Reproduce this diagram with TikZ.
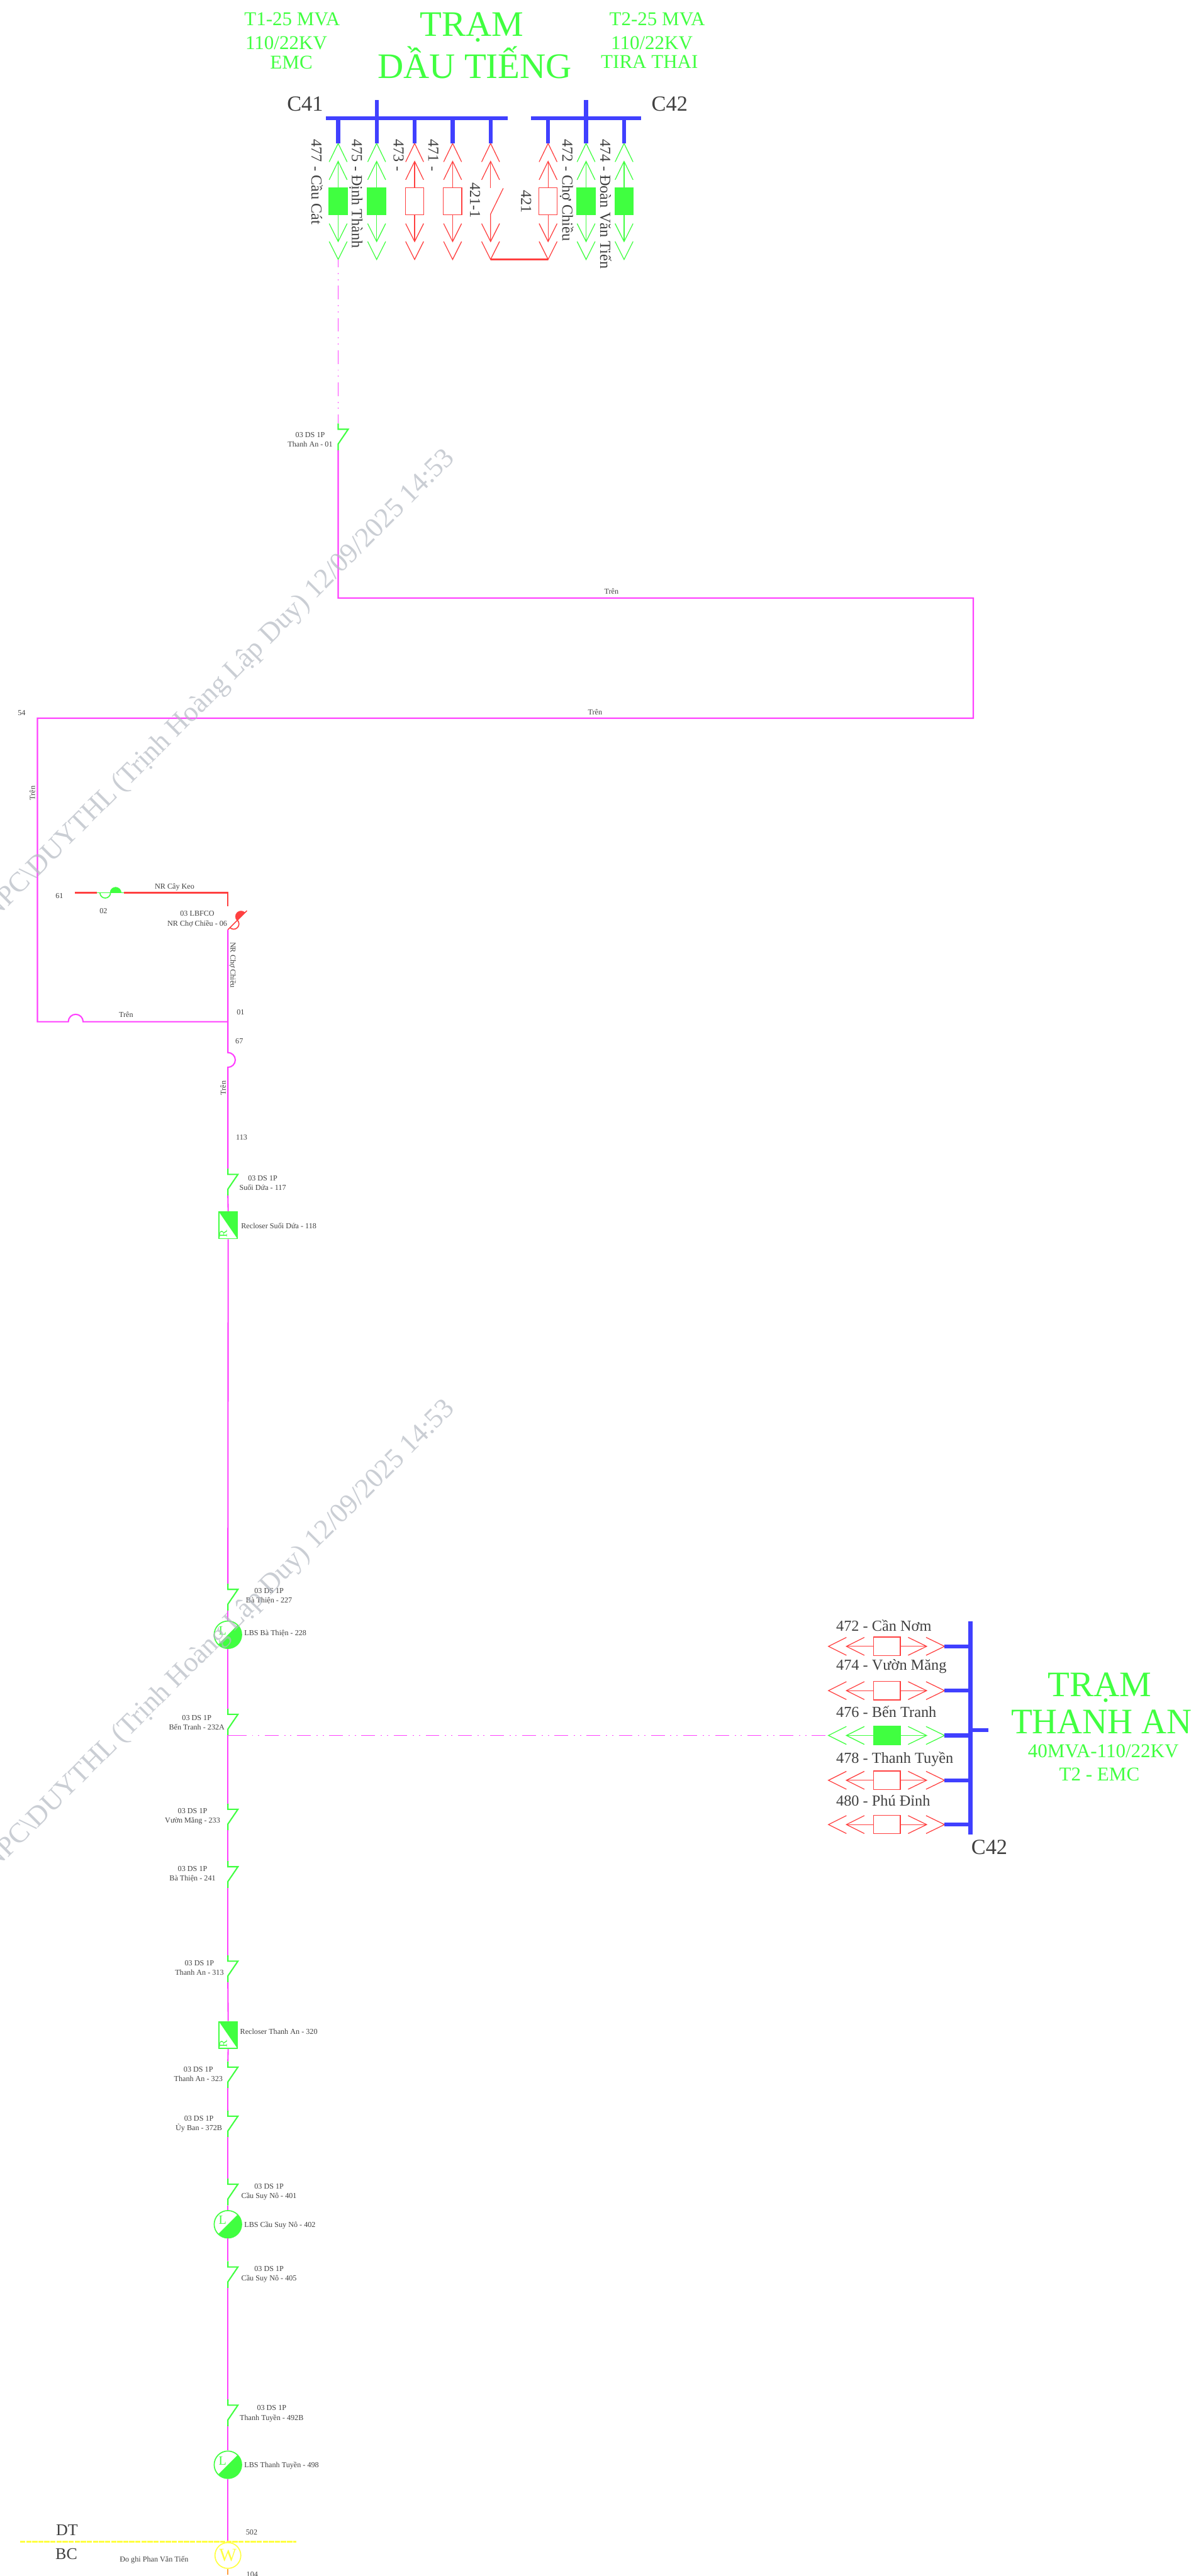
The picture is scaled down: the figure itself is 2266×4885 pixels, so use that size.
\documentclass[tikz,border=0pt]{standalone}
\usepackage{fontspec}
\setmainfont{Liberation Serif}
\usepackage{tikz}
\usetikzlibrary{positioning}
\definecolor{linegreen}{HTML}{40FF40}
\definecolor{linered}{HTML}{FF4040}
\definecolor{linemag}{HTML}{FF40FF}
\definecolor{lineblue}{HTML}{4040FF}
\definecolor{lineyel}{HTML}{FFFF40}
\definecolor{lineora}{HTML}{FF9F40}
\definecolor{labelgray}{HTML}{404040}
\definecolor{stampgray}{HTML}{B4B9C2}
\newcommand{\ptsize}[1]{\fontsize{#1}{18}\selectfont}

\begin{document}
\begin{tikzpicture}
                            [x=1pt, y=-1pt,
                             every node/.style={inner sep=0pt, text=labelgray, font=\ptsize{14.5}, align=center},
                             feeder/.style={draw=linemag, line width=2.5pt},
                             tieline/.style={draw=linemag, line width=2.3pt, dash pattern=on 26pt off 10.7pt on 2.3pt off 9.3pt on 2.3pt off 10.4pt},
                             nrline/.style={draw=linered, line width=2.7pt},
                             busbar/.style={draw=lineblue, line width=7.5pt},
                             hlabel/.style={font=\ptsize{29}, anchor=base west},
                             vlabel/.style={font=\ptsize{29}, rotate=-90, anchor=base west},
                             buslabel/.style={font=\ptsize{41}, anchor=base west},
                             titlea/.style={text=linegreen, font=\ptsize{68}, anchor=base},
                             titleb/.style={text=linegreen, font=\ptsize{37}, anchor=base west},
                             bayon/.style={draw=linegreen, fill=linegreen},
                             bayoff/.style={draw=linered, fill=white},
                             stamp/.style={text=stampgray, opacity=.7, font=\ptsize{53}, rotate=45, anchor=base east},
                             recl/.style={draw=linegreen, line width=2pt, minimum width=35pt, minimum height=51pt,
                                 path picture={\fill[linegreen] (path picture bounding box.north west) -- (path picture bounding box.north east) -- (path picture bounding box.south east) -- cycle;
                                     \node[rotate=90, text=linegreen, font=\ptsize{21}] at ([xshift=-9pt,yshift=-16pt] path picture bounding box.center) {R};}},
                             lbs/.style={draw=linegreen, line width=2pt, circle, minimum size=52pt,
                                 path picture={\fill[linegreen] (path picture bounding box.north east) -- (path picture bounding box.south east) -- (path picture bounding box.south west) -- cycle;
                                     \node[text=linegreen, font=\ptsize{24}] at ([xshift=-10pt,yshift=8pt] path picture bounding box.center) {L};}},
                             meter/.style={draw=lineyel, line width=2pt, circle, minimum size=49pt, text=lineyel, font=\ptsize{35}},
                             dsw/.pic={\draw[draw=linegreen, line width=2.5pt] (0,0) -- (0,11) -- (19,11) -- (0,39) -- (0,51);
                                 \coordinate (-a) at (0,0); \coordinate (-b) at (0,51);},
                             fco/.pic={\draw[pic actions, fill=none, line width=2pt] (0,0) -- (51,0);
                                 \draw[pic actions, fill=none, line width=2pt] (5.5,0) arc[start angle=180, end angle=360, radius=10pt];
                                 \draw[pic actions] (24.5,0) arc[start angle=180, end angle=0, radius=10.7pt] -- cycle;
                                 \coordinate (-a) at (0,0); \coordinate (-b) at (51,0);},
                             bay/.pic={\draw[pic actions, fill=none, line width=1.5pt] (-17,35) -- (0,0) -- (17,35);
                                 \draw[pic actions, fill=none, line width=1.5pt] (-17,69) -- (0,34) -- (17,69);
                                 \draw[pic actions, fill=none, line width=1.5pt] (0,34) -- (0,84);
                                 \draw[pic actions, line width=1.5pt] (-17.5,84) rectangle (17.5,135);
                                 \draw[pic actions, fill=none, line width=1.5pt] (0,135) -- (0,186);
                                 \draw[pic actions, fill=none, line width=1.5pt] (-17,152) -- (0,186) -- (17,152);
                                 \draw[pic actions, fill=none, line width=1.5pt] (-17,186) -- (0,220) -- (17,186);
                                 \coordinate (-a) at (0,0); \coordinate (-b) at (0,220);},
                             openbay/.pic={\draw[pic actions, fill=none, line width=1.5pt] (-17,35) -- (0,0) -- (17,35);
                                 \draw[pic actions, fill=none, line width=1.5pt] (-17,69) -- (0,34) -- (17,69);
                                 \draw[pic actions, fill=none, line width=1.5pt] (0,34) -- (0,85);
                                 \draw[pic actions, fill=none, line width=1.5pt] (24,85) -- (0,134) -- (0,186);
                                 \draw[pic actions, fill=none, line width=1.5pt] (-17,152) -- (0,186) -- (17,152);
                                 \draw[pic actions, fill=none, line width=1.5pt] (-17,186) -- (0,220) -- (17,186);
                                 \coordinate (-a) at (0,0); \coordinate (-b) at (0,220);}]

    \clip (0,0) rectangle (2266,4885);

    % Tram Dau Tieng
    \node[titlea] (dt1) at (894,68) {TRẠM};
    \node[titlea] (dt2) at (900,148) {DẦU TIẾNG};
    \node[titleb] (dt3) at (463,48) {T1-25 MVA};
    \node[titleb] (dt4) at (465,94) {110/22KV};
    \node[titleb] (dt5) at (512,131) {EMC};
    \node[titleb] (dt6) at (1155,48) {T2-25 MVA};
    \node[titleb] (dt7) at (1158,94) {110/22KV};
    \node[titleb] (dt8) at (1139,129) {TIRA THAI};
    \node[buslabel] (c41) at (544,211) {C41};
    \node[buslabel] (c42) at (1235,211) {C42};

    \coordinate (c41w) at (618,224);
    \coordinate (c41e) at (963,224);
    \coordinate (c42w) at (1006,224);
    \coordinate (c42e) at (1215,224);
    \coordinate (c41t) at (714,190);
    \coordinate (c42t) at (1111,190);
    \draw[busbar] (c41w) -- (c41e);
    \draw[busbar] (c42w) -- (c42e);

    \pic[bayon] (bay477) at (641,272) {bay};
    \pic[bayon] (bay475) at (714,272) {bay};
    \pic[bayoff] (bay473) at (786,272) {bay};
    \pic[bayoff] (bay471) at (858,272) {bay};
    \pic[bayoff] (bay4211) at (930,272) {openbay};
    \pic[bayoff] (bay421) at (1039,272) {bay};
    \pic[bayon] (bay472) at (1111,272) {bay};
    \pic[bayon] (bay474) at (1183,272) {bay};

    \draw[busbar] (bay477-a) -- (bay477-a |- c41w);
    \draw[busbar] (bay475-a) -- (c41t);
    \draw[busbar] (bay473-a) -- (bay473-a |- c41w);
    \draw[busbar] (bay471-a) -- (bay471-a |- c41w);
    \draw[busbar] (bay4211-a) -- (bay4211-a |- c41w);
    \draw[busbar] (bay421-a) -- (bay421-a |- c42w);
    \draw[busbar] (bay472-a) -- (c42t);
    \draw[busbar] (bay474-a) -- (bay474-a |- c42w);
    \draw[draw=linered, line width=3pt] (bay4211-b) -- (bay421-b);

    \node[vlabel] (n477) at (590.5,264) {477 - Cầu Cát};
    \node[vlabel] (n475) at (667,264) {475 - Định Thành};
    \node[vlabel] (n473) at (746,264) {473 -};
    \node[vlabel] (n471) at (812,264) {471 -};
    \node[vlabel] (n4211) at (891,346) {421-1};
    \node[vlabel] (n421) at (988,360) {421};
    \node[vlabel] (n472) at (1066,264) {472 - Chợ Chiều};
    \node[vlabel] (n474) at (1138,264) {474 - Đoàn Văn Tiến};

    % Mach vong xuong tuyen chinh
    \pic (ds01) at (641,803) {dsw};
    \node (t01) at (588,834) {03 DS 1P\\Thanh An - 01};
    \draw[tieline, dash phase=11pt] (bay477-b) -- (ds01-a);

    \coordinate (k1) at (641,1134);
    \coordinate (k2) at (1845,1134);
    \coordinate (k3) at (1845,1362);
    \coordinate (k4) at (71,1362);
    \coordinate (k5) at (71,1937.5);
    \coordinate (j1) at (129.5,1937.5);
    \coordinate (k6) at (432,1937.5);
    \coordinate (j2) at (432,1996);
    \coordinate (j3) at (432,2024);
    \draw[feeder] (ds01-b) -- (k1) -- (k2) -- (k3) -- (k4) -- (k5) -- (j1)
        arc[start angle=180, end angle=0, radius=14pt] -- (k6);

    \node (t02) at (1159,1122) {Trên};
    \node (t03) at (1128,1350) {Trên};
    \node (t04) at (41,1352) {54};
    \node[rotate=90] (t05) at (61.5,1504) {Trên};
    \node (t06) at (239,1924) {Trên};

    % NR Cay Keo
    \coordinate (nrw) at (142,1693);
    \coordinate (nre) at (432,1693);
    \coordinate (nrs) at (432,1719);
    \pic[draw=linegreen, fill=linegreen] (fco02) at (184,1693) {fco};
    \pic[draw=linered, fill=linered, rotate=45] (fco06) at (432,1763) {fco};
    \draw[nrline] (nrw) -- (fco02-a);
    \draw[nrline] (fco02-b) -- (nre) -- (nrs);
    \node (t07) at (331,1682) {NR Cây Keo};
    \node (t08) at (112.5,1699) {61};
    \node (t09) at (196,1727) {02};
    \node (t10) at (374,1743) {03 LBFCO\\NR Chợ Chiều - 06};
    \node[rotate=-90] (t11) at (441,1830) {NR Chợ Chiều};
    \node (t12) at (456,1919) {01};
    \node (t13) at (453.5,1974) {67};
    \node[rotate=90] (t14) at (423,2063) {Trên};
    \node (t15) at (458,2157) {113};

    % Tuyen chinh
    \pic (ds117) at (432,2216) {dsw};
    \node[recl] (rc118) at (432.5,2323.5) {};
    \pic (ds227) at (432,3003) {dsw};
    \node[lbs] (lbs228) at (432,3100) {};
    \pic (ds232) at (432,3240) {dsw};
    \pic (ds233) at (432,3420) {dsw};
    \pic (ds241) at (432,3529) {dsw};
    \pic (ds313) at (432,3708) {dsw};
    \node[recl] (rc320) at (432.5,3859) {};
    \pic (ds323) at (432,3909) {dsw};
    \pic (ds372) at (432,4002) {dsw};
    \pic (ds401) at (432,4131) {dsw};
    \node[lbs] (lbs402) at (432,4218) {};
    \pic (ds405) at (432,4288) {dsw};
    \pic (ds492) at (432,4550) {dsw};
    \node[lbs] (lbs498) at (432,4674) {};
    \node[meter] (wh) at (432,4846) {W};
    \coordinate (wend) at (432,4883);

    \draw[feeder] (fco06-a) -- (j2) arc[start angle=90, end angle=-90, radius=14pt] -- (ds117-a);
    \draw[feeder] (ds117-b) -- (rc118.north);
    \draw[feeder] (rc118.south) -- (ds227-a);
    \draw[feeder] (ds227-b) -- (lbs228.north);
    \draw[feeder] (lbs228.south) -- (ds232-a);
    \draw[feeder] (ds232-b) -- (ds233-a);
    \draw[feeder] (ds233-b) -- (ds241-a);
    \draw[feeder] (ds241-b) -- (ds313-a);
    \draw[feeder] (ds313-b) -- (rc320.north);
    \draw[feeder] (rc320.south) -- (ds323-a);
    \draw[feeder] (ds323-b) -- (ds372-a);
    \draw[feeder] (ds372-b) -- (ds401-a);
    \draw[feeder] (ds401-b) -- (lbs402.north);
    \draw[feeder] (lbs402.south) -- (ds405-a);
    \draw[feeder] (ds405-b) -- (ds492-a);
    \draw[feeder] (ds492-b) -- (lbs498.north);
    \draw[feeder] (lbs498.south) -- (wh.north);
    \draw[draw=lineora, line width=2pt] (wh.south) -- (wend);

    \node (t117) at (498,2243) {03 DS 1P\\Suối Dứa - 117};
    \node[anchor=west] (t118) at (457,2324) {Recloser Suối Dứa - 118};
    \node (t227) at (510,3027) {03 DS 1P\\Bà Thiện - 227};
    \node[anchor=west] (t228) at (463,3098) {LBS Bà Thiện - 228};
    \node (t232) at (373,3267) {03 DS 1P\\Bến Tranh - 232A};
    \node (t233) at (365,3445) {03 DS 1P\\Vườn Măng - 233};
    \node (t241) at (365,3554) {03 DS 1P\\Bà Thiện - 241};
    \node (t313) at (378,3732) {03 DS 1P\\Thanh An - 313};
    \node[anchor=west] (t320) at (455,3853) {Recloser Thanh An - 320};
    \node (t323) at (376,3933) {03 DS 1P\\Thanh An - 323};
    \node (t372) at (377,4028) {03 DS 1P\\Ủy Ban - 372B};
    \node (t401) at (510,4157) {03 DS 1P\\Cầu Suy Nô - 401};
    \node[anchor=west] (t402) at (463,4220) {LBS Cầu Suy Nô - 402};
    \node (t405) at (510,4313) {03 DS 1P\\Cầu Suy Nô - 405};
    \node (t492) at (515,4577) {03 DS 1P\\Thanh Tuyền - 492B};
    \node[anchor=west] (t498) at (463,4675) {LBS Thanh Tuyền - 498};
    \node (t502) at (477,4802) {502};
    \node (t104) at (478,4882) {104};
    \node (t550) at (292,4855) {Đo ghi Phan Văn Tiến};

    % Ranh gioi do dem
    \coordinate (dtw) at (38,4820);
    \coordinate (dte) at (562,4820);
    \draw[draw=lineyel, line width=3pt, dash pattern=on 10pt off 1.5pt] (dtw) -- (dte);
    \node[font=\ptsize{31}, anchor=base west] (dt) at (106,4808) {DT};
    \node[font=\ptsize{31}, anchor=base west] (bc) at (105,4853) {BC};

    % Tram Thanh An
    \coordinate (c42n) at (1839.5,3074);
    \coordinate (c42s) at (1839.5,3479);
    \coordinate (c42m) at (1839.5,3281);
    \coordinate (c42r) at (1873,3281);
    \draw[busbar] (c42n) -- (c42s);
    \draw[busbar] (c42m) -- (c42r);

    \pic[bayoff, rotate=-90] (ta472) at (1790.5,3122) {bay};
    \pic[bayoff, rotate=-90] (ta474) at (1790.5,3206) {bay};
    \pic[bayon, rotate=-90] (ta476) at (1790.5,3291) {bay};
    \pic[bayoff, rotate=-90] (ta478) at (1790.5,3376) {bay};
    \pic[bayoff, rotate=-90] (ta480) at (1790.5,3460) {bay};
    \draw[busbar] (ta472-a) -- (ta472-a -| c42n);
    \draw[busbar] (ta474-a) -- (ta474-a -| c42n);
    \draw[busbar] (ta476-a) -- (ta476-a -| c42n);
    \draw[busbar] (ta478-a) -- (ta478-a -| c42n);
    \draw[busbar] (ta480-a) -- (ta480-a -| c42n);

    \coordinate (tj1) at (432,3291);
    \coordinate (tj2) at (441,3291);
    \draw[tieline, solid] (tj1) -- (tj2);
    \draw[tieline] (tj2) -- (ta476-b);

    \node[hlabel] (l472) at (1585,3093) {472 - Cần Nơm};
    \node[hlabel] (l474) at (1585,3167) {474 - Vườn Măng};
    \node[hlabel] (l476) at (1585,3256) {476 - Bến Tranh};
    \node[hlabel] (l478) at (1585,3343) {478 - Thanh Tuyền};
    \node[hlabel] (l480) at (1585,3425) {480 - Phú Đỉnh};
    \node[buslabel] (c42b) at (1841,3517) {C42};
    \node[titlea] (ta1) at (2085,3217) {TRẠM};
    \node[titlea] (ta2) at (2088,3288) {\scalebox{.97}[1]{THANH AN}};
    \node[titleb, anchor=base] (ta3) at (2091.5,3333) {40MVA-110/22KV};
    \node[titleb, anchor=base] (ta4) at (2084,3377) {T2 - EMC};

    % Dau thoi gian
    \node[stamp] (wm1) at (864,871) {NPC\textbackslash DUYTHL\,(Trịnh Hoàng Lập Duy) 12/09/2025 14:53};
    \node[stamp] (wm2) at (864,2674) {NPC\textbackslash DUYTHL\,(Trịnh Hoàng Lập Duy) 12/09/2025 14:53};
\end{tikzpicture}
\end{document}
